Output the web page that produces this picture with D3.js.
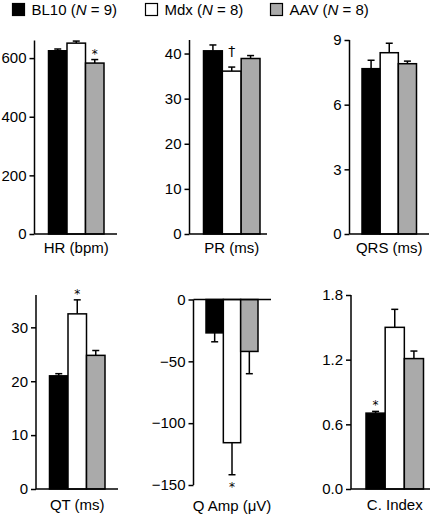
<!DOCTYPE html>
<html><head><meta charset="utf-8">
<script src="https://cdn.jsdelivr.net/npm/d3@7"></script>
<style>body{margin:0;background:#fff}svg{display:block;font-family:"Liberation Sans",Arial,sans-serif}</style>
</head><body><svg id="c" width="440" height="515"></svg>
<script>
// ---- data ----
const groups = ["BL10", "Mdx", "AAV"];
const groupN = [9, 8, 8];
const groupColors = ["#000000", "#ffffff", "#aaaaaa"];
const metrics = ["HR (bpm)", "PR (ms)", "QRS (ms)", "QT (ms)", "Q Amp (\u03bcV)", "C. Index"];
const hrMean = [625, 651, 583];      const hrErr = [6, 7, 12];
const prMean = [40.6, 36.1, 38.9];   const prErr = [1.3, 0.9, 0.65];
const qrsMean = [7.67, 8.41, 7.9];   const qrsErr = [0.39, 0.44, 0.12];
const qtMean = [21.0, 32.5, 24.8];   const qtErr = [0.4, 2.6, 0.9];
const qAmpMean = [-27, -115.8, -42]; const qAmpErr = [7.2, 25.9, 18];
const cIdxMean = [0.704, 1.5, 1.21]; const cIdxErr = [0.016, 0.167, 0.07];
const hrTicks = [0, 200, 400, 600];
const prTicks = [0, 10, 20, 30, 40];
const qrsTicks = [0, 3, 6, 9];
const qtTicks = [0, 10, 20, 30];
const qAmpTicks = [0, -50, -100, -150];
const cIdxTicks = [0, 0.6, 1.2, 1.8];
const hrDomain = [0, 660], prDomain = [0, 43], qrsDomain = [0, 9], qtDomain = [0, 36], qAmpDomain = [-150, 0], cIdxDomain = [0, 1.8];
const hrMarks = ["", "", "*"], prMarks = ["", "\u2020", ""], qrsMarks = ["", "", ""],
      qtMarks = ["", "*", ""], qAmpMarks = ["", "*", ""], cIdxMarks = ["*", "", ""];

// ---- layout ----
const svg = d3.select("#c");
const FS = 15;
const panels = [
  {m: metrics[0], mean: hrMean, err: hrErr, ticks: hrTicks, dom: hrDomain, marks: hrMarks, fmt: d3.format("d"),
   ax: 34.5, b0: 48.5, b1: 104, yr: [234, 40.5], xend: 117, lab: 253},
  {m: metrics[1], mean: prMean, err: prErr, ticks: prTicks, dom: prDomain, marks: prMarks, fmt: d3.format("d"),
   ax: 189.5, b0: 203.5, b1: 260, yr: [234, 40], xend: 267, lab: 253},
  {m: metrics[2], mean: qrsMean, err: qrsErr, ticks: qrsTicks, dom: qrsDomain, marks: qrsMarks, fmt: d3.format("d"),
   ax: 349.5, b0: 362, b1: 416.5, yr: [234, 40], xend: 429, lab: 253},
  {m: metrics[3], mean: qtMean, err: qtErr, ticks: qtTicks, dom: qtDomain, marks: qtMarks, fmt: d3.format("d"),
   ax: 36, b0: 49.5, b1: 105, yr: [489, 295], xend: 118, lab: 510},
  {m: metrics[4], mean: qAmpMean, err: qAmpErr, ticks: qAmpTicks, dom: qAmpDomain, marks: qAmpMarks, fmt: d => d3.format("d")(d).replace("-", "\u2212"),
   ax: 193.5, b0: 206, b1: 258, yr: [485, 299.5], xend: 271, lab: 511},
  {m: metrics[5], mean: cIdxMean, err: cIdxErr, ticks: cIdxTicks, dom: cIdxDomain, marks: cIdxMarks, fmt: d3.format(".1f"),
   ax: 351, b0: 366, b1: 423.5, yr: [489, 295], xend: 430, lab: 510}
];

panels.forEach(p => {
  const g = svg.append("g");
  const y = d3.scaleLinear().domain(p.dom).range(p.yr);
  const x = d3.scaleBand().domain(groups).range([p.b0, p.b1]).paddingInner(0).paddingOuter(0);
  const data = groups.map((k, i) => ({k, v: p.mean[i], e: p.err[i], c: groupColors[i], mk: p.marks[i]}));
  // error bars (behind bars)
  data.forEach(d => {
    const cx = x(d.k) + x.bandwidth() / 2;
    const tip = d.v >= 0 ? d.v + d.e : d.v - d.e;
    g.append("line").attr("x1", cx).attr("x2", cx).attr("y1", y(d.v)).attr("y2", y(tip))
      .attr("stroke", "#000").attr("stroke-width", 1.5);
    g.append("line").attr("x1", cx - 3.5).attr("x2", cx + 3.5).attr("y1", y(tip)).attr("y2", y(tip))
      .attr("stroke", "#000").attr("stroke-width", 1.5);
  });
  // bars
  g.selectAll("rect.bar").data(data).join("rect").attr("class", "bar")
    .attr("x", d => x(d.k)).attr("width", x.bandwidth())
    .attr("y", d => Math.min(y(0), y(d.v))).attr("height", d => Math.abs(y(d.v) - y(0)))
    .attr("fill", d => d.c).attr("stroke", "#000").attr("stroke-width", 1.5);
  // significance marks
  data.forEach(d => {
    if (!d.mk) return;
    const cx = x(d.k) + x.bandwidth() / 2;
    const tip = d.v >= 0 ? d.v + d.e : d.v - d.e;
    let ty;
    if (d.mk === "\u2020") ty = y(tip) - 11;
    else ty = d.v >= 0 ? y(tip) - 2 : y(tip) + 16;
    g.append("text").attr("x", cx).attr("y", ty)
      .attr("text-anchor", "middle").attr("fill", "#000")
      .attr("font-family", "DejaVu Sans, Liberation Sans, sans-serif")
      .attr("font-size", d.mk === "\u2020" ? 14 : 12).text(d.mk);
  });
  // y axis
  const yAxis = d3.axisLeft(y).tickValues(p.ticks).tickFormat(p.fmt).tickSize(5).tickPadding(3);
  const ya = g.append("g").attr("transform", `translate(${p.ax},0)`).call(yAxis);
  ya.select(".domain").attr("stroke-width", 1.5).attr("d", `M0,${p.yr[0]}V${p.yr[1]}`);
  ya.selectAll(".tick line").attr("stroke-width", 1.5);
  ya.selectAll(".tick text").attr("font-size", FS).attr("font-family", "Liberation Sans, Arial, sans-serif").attr("fill", "#000");
  // x baseline
  g.append("line").attr("x1", p.ax).attr("x2", p.xend).attr("y1", y(0)).attr("y2", y(0))
    .attr("stroke", "#000").attr("stroke-width", 1.5);
  // label
  g.append("text").attr("x", (p.b0 + p.b1) / 2).attr("y", p.lab).attr("text-anchor", "middle")
    .attr("font-size", FS).text(p.m);
});

// legend
const legX = [12, 145, 270];
groups.forEach((k, i) => {
  svg.append("rect").attr("x", legX[i] + 0.5).attr("y", 3.5).attr("width", 12).attr("height", 12)
    .attr("fill", groupColors[i]).attr("stroke", "#000").attr("stroke-width", 1.2);
  const t = svg.append("text").attr("x", legX[i] + 19.5).attr("y", 15).attr("font-size", FS);
  t.append("tspan").text(`${k} (`);
  t.append("tspan").attr("font-style", "italic").text("N");
  t.append("tspan").text(` = ${groupN[i]})`);
});
</script></body></html>
